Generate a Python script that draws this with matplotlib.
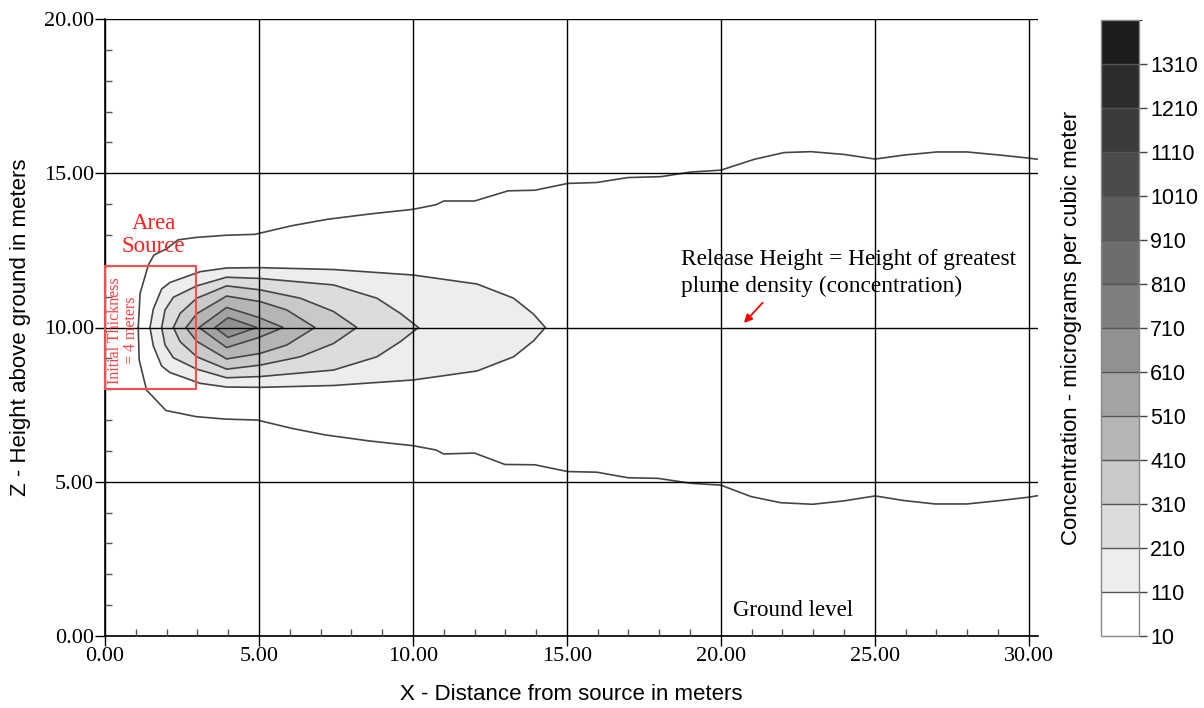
import matplotlib
matplotlib.use('Agg')
import matplotlib.pyplot as plt
from matplotlib.colors import ListedColormap, BoundaryNorm
from matplotlib.cm import ScalarMappable
from matplotlib.patches import Rectangle
from matplotlib.ticker import MultipleLocator, FormatStrFormatter
import numpy as np

# concentration levels (micrograms per cubic meter) and band greys
levels = [10, 110, 210, 310, 410, 510, 610, 710, 810, 910, 1010, 1110, 1210, 1310, 1410]
band_colors = ['#ffffff', '#ededed', '#dcdcdc', '#c9c9c9', '#b5b5b5', '#a3a3a3', '#919191',
               '#7f7f7f', '#6d6d6d', '#5c5c5c', '#4b4b4b', '#3b3b3b', '#2c2c2c', '#1c1c1c']

release_height = 10.0

# outermost (10) contour, upper and lower branches
outer_x_up = [1.08, 1.14, 1.41, 1.59, 2.0, 2.37, 2.96, 3.93, 4.87, 6.07, 7.24, 8.6, 10.0, 10.75,
              11.0, 12.0, 13.09, 13.96, 15.03, 15.97, 16.98, 18.06, 19.03, 20.0, 21.08, 22.05,
              22.92, 24.0, 25.01, 25.95, 27.02, 27.99, 29.06, 30.0, 30.3]
outer_z_up = [10.0, 11.11, 12.03, 12.35, 12.55, 12.84, 12.92, 12.99, 13.02, 13.30, 13.51, 13.68,
              13.83, 13.98, 14.1, 14.1, 14.43, 14.45, 14.67, 14.70, 14.86, 14.89, 15.04, 15.1,
              15.45, 15.67, 15.70, 15.61, 15.46, 15.59, 15.69, 15.69, 15.59, 15.49, 15.45]
outer_x_lo = [1.08, 1.11, 1.35, 1.98, 2.96, 3.93, 4.94, 6.07, 7.14, 8.6, 10.0, 10.75, 11.0, 12.0,
              12.99, 13.96, 15.03, 15.97, 16.98, 17.96, 19.03, 20.0, 20.98, 21.95, 22.98, 24.0,
              25.01, 25.95, 26.96, 27.99, 29.06, 30.0, 30.3]
outer_z_lo = [10.0, 8.95, 7.97, 7.31, 7.11, 7.03, 7.0, 6.73, 6.52, 6.32, 6.17, 6.03, 5.9, 5.93,
              5.56, 5.55, 5.33, 5.31, 5.13, 5.11, 4.95, 4.89, 4.52, 4.32, 4.27, 4.38, 4.54, 4.39,
              4.28, 4.28, 4.39, 4.50, 4.55]

# inner contours: distance along x and half thickness about the release height
c110_x = [1.46, 1.57, 1.84, 2.11, 3.09, 3.95, 5.04, 7.42, 10.02, 12.08, 13.27, 13.92, 14.30]
c110_hw = [0, 0.6, 1.25, 1.46, 1.81, 1.93, 1.94, 1.88, 1.70, 1.41, 0.95, 0.43, 0]
c210_x = [1.84, 1.95, 2.22, 2.98, 3.95, 5.04, 7.42, 8.83, 9.59, 10.18]
c210_hw = [0, 0.57, 0.98, 1.35, 1.63, 1.59, 1.38, 0.95, 0.46, 0]
c310_x = [2.22, 2.44, 2.98, 3.95, 5.04, 6.34, 7.42, 8.18]
c310_hw = [0, 0.46, 0.95, 1.35, 1.22, 0.95, 0.52, 0]
c410_x = [2.63, 2.98, 3.95, 5.04, 5.9, 6.82]
c410_hw = [0, 0.45, 1.02, 0.84, 0.57, 0]
c510_x = [3.05, 3.95, 4.98, 5.79]
c510_hw = [0, 0.65, 0.33, 0]
c610_x = [3.57, 4.0, 4.93]
c610_hw = [0, 0.32, 0]

plume = [(110, c110_x, c110_hw), (210, c210_x, c210_hw), (310, c310_x, c310_hw),
         (410, c410_x, c410_hw), (510, c510_x, c510_hw), (610, c610_x, c610_hw)]

serif = 'Liberation Serif'
sans = 'Liberation Sans'

cmap = ListedColormap(band_colors)
norm = BoundaryNorm(levels, cmap.N)

fig = plt.figure(figsize=(12.04, 7.08), dpi=100)
ax = fig.add_axes([105 / 1204, 72 / 708, 933 / 1204, 617 / 708])

line_col = '#454545'
ax.plot(outer_x_up, outer_z_up, color=line_col, lw=1.2, zorder=1.5)
ax.plot(outer_x_lo, outer_z_lo, color=line_col, lw=1.2, zorder=1.5)

for lev, xs, hw in plume:
    xs = np.array(xs)
    hw = np.array(hw)
    px = np.concatenate([xs, xs[::-1]])
    pz = np.concatenate([release_height + hw, (release_height - hw)[::-1]])
    ax.fill(px, pz, facecolor=cmap(norm(lev)), edgecolor=line_col, lw=1.2, zorder=1)

ax.set_xlim(0, 30.3)
ax.set_ylim(0, 20)
ax.xaxis.set_major_locator(MultipleLocator(5))
ax.xaxis.set_minor_locator(MultipleLocator(1))
ax.yaxis.set_major_locator(MultipleLocator(5))
ax.yaxis.set_minor_locator(MultipleLocator(1))
ax.xaxis.set_major_formatter(FormatStrFormatter('%.2f'))
ax.yaxis.set_major_formatter(FormatStrFormatter('%.2f'))
ax.set_axisbelow(False)
ax.grid(which='major', color='black', lw=1.0)
ax.tick_params(which='major', direction='out', length=7, width=1, color='black', pad=1)
ax.tick_params(which='minor', direction='in', length=5, width=1, color='#555555')
for lab in ax.get_xticklabels() + ax.get_yticklabels():
    lab.set_fontfamily(serif)
    lab.set_fontsize(16)
for side in ['top', 'right']:
    ax.spines[side].set_visible(False)
for side in ['left', 'bottom']:
    ax.spines[side].set_linewidth(1.2)

ax.set_xlabel('X - Distance from source in meters', fontfamily=sans, fontsize=16, labelpad=13)
ax.set_ylabel('Z - Height above ground in meters', fontfamily=sans, fontsize=16, labelpad=9)

# annotations
ax.add_patch(Rectangle((0, 8), 2.95, 4, fill=False, edgecolor='#ff4d4d', lw=1.5, zorder=3,
                       clip_on=False))
ax.text(1.58, 13.0, 'Area\nSource', color='#ff2020', fontfamily=serif, fontsize=16.5,
        ha='center', va='center', linespacing=1.1, zorder=4)
ax.text(0.6, 9.9, 'Initial Thickness\n= 4 meters', color='#ff4040', fontfamily=serif,
        fontsize=11.5, rotation=90, ha='center', va='center', multialignment='center',
        linespacing=1.0, zorder=4)
ax.text(18.71, 12.55, 'Release Height = Height of greatest\nplume density (concentration)',
        fontfamily=serif, fontsize=16.8, ha='left', va='top', linespacing=1.35, zorder=4)
ax.annotate('', xy=(20.69, 10.08), xytext=(21.42, 10.87),
            arrowprops=dict(arrowstyle='-|>', color='red', lw=1.3, mutation_scale=12), zorder=4)
ax.text(22.33, 0.84, 'Ground level', fontfamily=serif, fontsize=16.5, ha='center', va='center',
        zorder=4)

# colour bar
cax = fig.add_axes([1101 / 1204, 72 / 708, 38 / 1204, 616 / 708])
cb = fig.colorbar(ScalarMappable(norm=norm, cmap=cmap), cax=cax, ticks=levels[:-1],
                  drawedges=True)
cb.dividers.set_color('#555555')
cb.dividers.set_linewidth(1.0)
cb.outline.set_edgecolor('#888888')
cb.outline.set_linewidth(1.0)
cax.tick_params(direction='out', length=6, width=1, color='#444444', pad=2)
for lab in cax.get_yticklabels():
    lab.set_fontfamily(sans)
    lab.set_fontsize(15.5)
cax.yaxis.set_label_position('left')
cax.set_ylabel('Concentration - micrograms per cubic meter', fontfamily=sans, fontsize=16,
               labelpad=14)

fig.savefig('out.png', dpi=100)
